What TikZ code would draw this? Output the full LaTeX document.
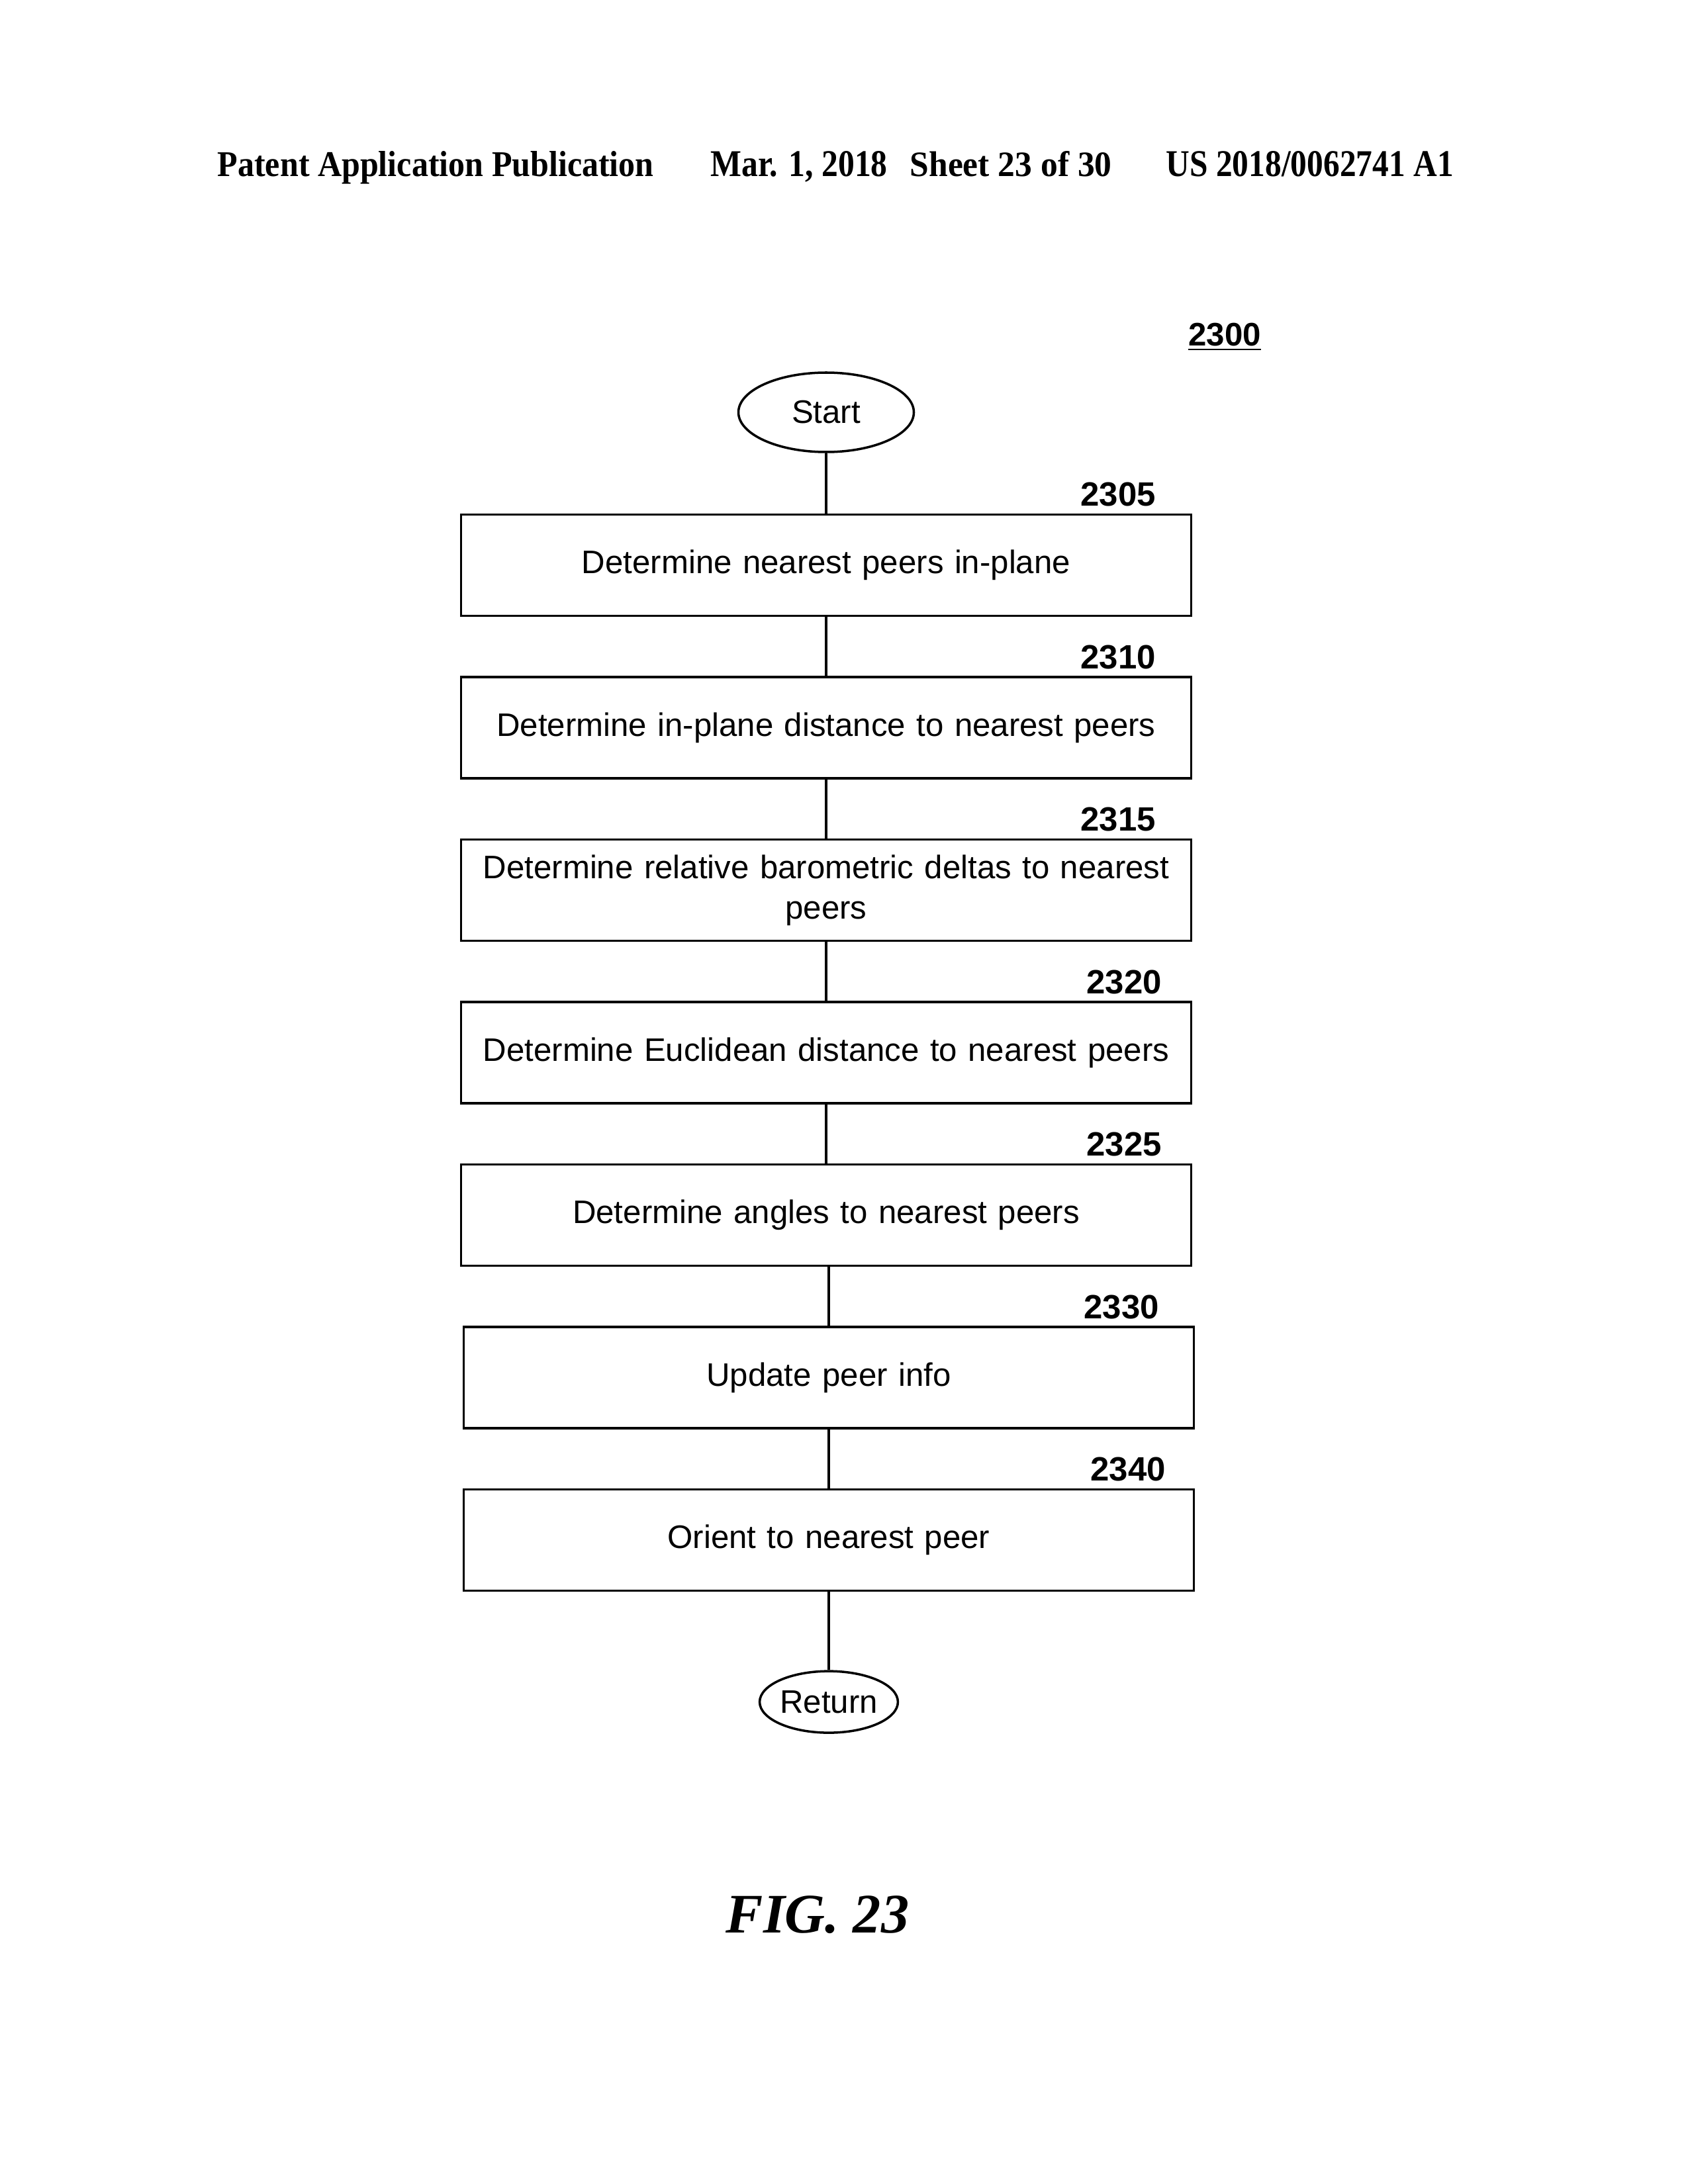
\documentclass[tikz,border=0pt]{standalone}
\usepackage{fontspec}
\setmainfont{Liberation Serif}
\setsansfont{Liberation Sans}
\usetikzlibrary{positioning, shapes.geometric, calc}

\begin{document}
\begin{tikzpicture}[
        node distance=0.89cm,
        stepbox/.style={rectangle, draw=black, line width=1pt, minimum width=11.0cm, minimum height=1.53cm, text width=10.8cm, align=center, font=\sffamily\fontsize{14}{17.3}\selectfont},
        termnode/.style={ellipse, draw=black, line width=1pt, inner sep=0pt, font=\sffamily\fontsize{14}{17}\selectfont},
        reflabel/.style={inner sep=0pt, font=\sffamily\bfseries\fontsize{14.5}{17}\selectfont},
        hdr/.style={inner sep=0pt, anchor=base west, font=\rmfamily\bfseries},
        link/.style={line width=1pt},
    ]
        \useasboundingbox (0,0) rectangle (25.5,-33);

        % Page header
        \node[hdr] (hpub) at (3.28,-2.67) {\resizebox{6.59cm}{0.38cm}{Patent Application Publication}};
        \node[hdr] (hdate) at (10.73,-2.67) {\resizebox{2.67cm}{0.38cm}{Mar. 1, 2018}};
        \node[hdr] (hsheet) at (13.74,-2.67) {\resizebox{3.05cm}{0.38cm}{Sheet 23 of 30}};
        \node[hdr] (hnum) at (17.61,-2.67) {\resizebox{4.34cm}{0.38cm}{US 2018/0062741 A1}};

        % Figure number
        \node[reflabel, font=\sffamily\bfseries\fontsize{14}{17}\selectfont] (fignum) at (18.50,-5.09) {\underline{2300}};

        % Flow
        \node[termnode, minimum width=2.65cm, minimum height=1.20cm] (start) at (12.48,-6.23) {Start};
        \node[stepbox, below=0.91cm of start] (b1) {Determine nearest peers in-plane};
        \node[stepbox, below=of b1] (b2) {Determine in-plane distance to nearest peers};
        \node[stepbox, below=of b2] (b3) {Determine relative barometric deltas to nearest\\peers};
        \node[stepbox, below=of b3] (b4) {Determine Euclidean distance to nearest peers};
        \node[stepbox, below=of b4] (b5) {Determine angles to nearest peers};
        \node[stepbox, below=of b5, xshift=0.04cm] (b6) {Update peer info};
        \node[stepbox, below=of b6] (b7) {Orient to nearest peer};
        \node[termnode, minimum width=1.94cm, minimum height=0.93cm, below=1.18cm of b7] (ret) {Return};

        % Step numbers
        \node[reflabel, above left=0.10cm and 0.55cm of b1.north east] (n2305) {2305};
        \node[reflabel, above left=0.10cm and 0.55cm of b2.north east] (n2310) {2310};
        \node[reflabel, above left=0.10cm and 0.55cm of b3.north east] (n2315) {2315};
        \node[reflabel, above left=0.10cm and 0.46cm of b4.north east] (n2320) {2320};
        \node[reflabel, above left=0.10cm and 0.46cm of b5.north east] (n2325) {2325};
        \node[reflabel, above left=0.10cm and 0.54cm of b6.north east] (n2330) {2330};
        \node[reflabel, above left=0.10cm and 0.44cm of b7.north east] (n2340) {2340};

        % Connectors
        \draw[link] (start) -- (b1);
        \draw[link] (b1) -- (b2);
        \draw[link] (b2) -- (b3);
        \draw[link] (b3) -- (b4);
        \draw[link] (b4) -- (b5);
        \draw[link] (b6.north |- b5.south) -- (b6.north);
        \draw[link] (b6) -- (b7);
        \draw[link] (b7) -- (ret);

        % Caption
        \node[font=\rmfamily\bfseries\itshape\fontsize{24}{29}\selectfont] (cap) at (12.35,-28.93) {FIG. 23};
    \end{tikzpicture}
\end{document}
